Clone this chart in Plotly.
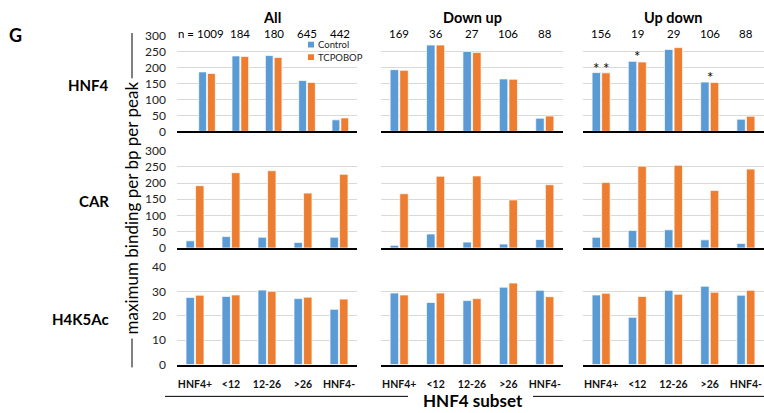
import plotly.graph_objects as go
from plotly.subplots import make_subplots

categories = ["HNF4+", "<12", "12-26", ">26", "HNF4-"]
col_titles = ["All", "Down up", "Up down"]
row_titles = ["HNF4", "CAR", "H4K5Ac"]
n_labels = [["n = 1009", "184", "180", "645", "442"],
            ["169", "36", "27", "106", "88"],
            ["156", "19", "29", "106", "88"]]
series_names = ["Control", "TCPOBOP"]

# HNF4 binding
hnf4_all_control = [186, 236, 237, 159, 36]
hnf4_all_tcpobop = [181, 234, 231, 153, 42]
hnf4_downup_control = [193, 270, 250, 164, 41]
hnf4_downup_tcpobop = [191, 270, 247, 163, 48]
hnf4_updown_control = [184, 219, 256, 154, 38]
hnf4_updown_tcpobop = [183, 217, 262, 153, 47]
# CAR binding
car_all_control = [22, 35, 33, 17, 33]
car_all_tcpobop = [192, 232, 238, 169, 227]
car_downup_control = [8, 43, 18, 12, 26]
car_downup_tcpobop = [167, 221, 222, 148, 195]
car_updown_control = [33, 54, 56, 25, 14]
car_updown_tcpobop = [202, 252, 255, 177, 243]
# H4K5Ac
h4_all_control = [27.6, 28.0, 30.6, 27.1, 22.7]
h4_all_tcpobop = [28.5, 28.6, 30.1, 27.7, 26.9]
h4_downup_control = [29.4, 25.5, 26.3, 31.8, 30.5]
h4_downup_tcpobop = [28.6, 29.4, 27.1, 33.5, 27.9]
h4_updown_control = [28.6, 19.4, 30.5, 32.2, 28.5]
h4_updown_tcpobop = [29.3, 28.0, 28.9, 29.7, 30.5]

control = [[hnf4_all_control, hnf4_downup_control, hnf4_updown_control],
           [car_all_control, car_downup_control, car_updown_control],
           [h4_all_control, h4_downup_control, h4_updown_control]]
tcpobop = [[hnf4_all_tcpobop, hnf4_downup_tcpobop, hnf4_updown_tcpobop],
           [car_all_tcpobop, car_downup_tcpobop, car_updown_tcpobop],
           [h4_all_tcpobop, h4_downup_tcpobop, h4_updown_tcpobop]]
y_max = [300, 300, 40]
y_dtick = [50, 50, 10]

# significance marks (row HNF4, column "Up down")
sig_category = ["HNF4+", "HNF4+", "<12", ">26"]
sig_series = ["control", "tcpobop", "both", "both"]

BLUE = "#5B9BD5"
ORANGE = "#ED7D31"
FONT = "Lato"
W, H = 764, 413

col_px = [(177, 357), (381, 563), (583, 764)]
row_px = [(28.5, 128), (148, 249), (269, 370)]

fig = make_subplots(rows=3, cols=3)

for r in range(3):
    for c in range(3):
        fig.add_trace(go.Bar(x=categories, y=control[r][c], name=series_names[0],
                             marker=dict(color=BLUE, line=dict(color="rgba(255,255,255,0.7)", width=1)),
                             showlegend=False), row=r + 1, col=c + 1)
        fig.add_trace(go.Bar(x=categories, y=tcpobop[r][c], name=series_names[1],
                             marker=dict(color=ORANGE, line=dict(color="rgba(255,255,255,0.7)", width=1)),
                             showlegend=False), row=r + 1, col=c + 1)
        idx = r * 3 + c + 1
        xa = "xaxis" if idx == 1 else f"xaxis{idx}"
        ya = "yaxis" if idx == 1 else f"yaxis{idx}"
        x0, x1 = col_px[c]
        t, b = row_px[r]
        fig.layout[xa].update(domain=[x0 / W, x1 / W], showline=True, linecolor="black",
                              linewidth=1.5, showgrid=False, ticks="",
                              showticklabels=(r == 2),
                              tickfont=dict(family=FONT, size=10.5, color="#111", weight="bold"),
                              ticklabelstandoff=9)
        fig.layout[ya].update(domain=[1 - b / H, 1 - t / H], range=[0, y_max[r]],
                              dtick=y_dtick[r], showgrid=True, gridcolor="#D9D9D9", gridwidth=1,
                              zeroline=False, showline=False, ticks="",
                              showticklabels=(c == 0),
                              tickfont=dict(family=FONT, size=12, color="#222"),
                              ticklabelstandoff=10)

annotations = []
# column titles
for c, title in enumerate(col_titles):
    x0, x1 = col_px[c]
    annotations.append(dict(text=f"<b>{title}</b>", x=(x0 + x1) / 2 / W + (5 / W if c == 0 else 0),
                            y=1, xref="paper", yref="paper", borderpad=0,
                            showarrow=False, font=dict(family=FONT, size=14.5, color="black"),
                            xanchor="center", yanchor="top"))
# n labels
for c in range(3):
    xr = "x" if c == 0 else f"x{c + 1}"
    for i, cat in enumerate(categories):
        annotations.append(dict(text=n_labels[c][i], x=cat, xref=xr, y=1 - 26 / H, yref="paper",
                                showarrow=False, font=dict(family=FONT, size=11.5, color="black"),
                                xanchor="center", yanchor="middle", borderpad=0,
                                xshift=(-6 if (c == 0 and i == 0) else 0)))
# legend (drawn inside the first panel)
legend_y = [38, 51]
legend_col = [BLUE, ORANGE]
shapes = []
for k, name in enumerate(series_names):
    yy = legend_y[k]
    shapes.append(dict(type="rect", xref="paper", yref="paper",
                       x0=308 / W, x1=314 / W, y0=1 - (yy + 3) / H, y1=1 - (yy - 3) / H,
                       fillcolor=legend_col[k], line=dict(width=0)))
    annotations.append(dict(text=name, x=316 / W, y=1 - yy / H, xref="paper", yref="paper",
                            showarrow=False, font=dict(family=FONT, size=9.5, color="#222"),
                            xanchor="left", yanchor="middle"))
# row titles
row_label_y = [80, 200, 323]
for r, title in enumerate(row_titles):
    annotations.append(dict(text=f"<b>{title}</b>", x=111 / W, y=1 - row_label_y[r] / H,
                            xref="paper", yref="paper", showarrow=False,
                            font=dict(family=FONT, size=15, color="black"),
                            xanchor="right", yanchor="middle"))
# panel letter
annotations.append(dict(text="<b>G</b>", x=15 / W, y=1 - 28 / H, xref="paper", yref="paper",
                        showarrow=False, font=dict(family=FONT, size=18, color="black"),
                        xanchor="center", yanchor="middle"))
# y title
annotations.append(dict(text="maximum binding per bp per peak", x=131 / W, y=1 - 208 / H,
                        xref="paper", yref="paper", showarrow=False, textangle=-90,
                        font=dict(family=FONT, size=17, color="black"),
                        xanchor="center", yanchor="middle"))
# x title
annotations.append(dict(text="<b>HNF4 subset</b>", x=473 / W, y=1 - 407 / H,
                        xref="paper", yref="paper", showarrow=False,
                        font=dict(family=FONT, size=17, color="black"),
                        xanchor="center", yanchor="middle"))
# significance asterisks
hnf4_updown = {"control": hnf4_updown_control, "tcpobop": hnf4_updown_tcpobop}
for cat, ser in zip(sig_category, sig_series):
    i = categories.index(cat)
    if ser == "both":
        yv = max(hnf4_updown_control[i], hnf4_updown_tcpobop[i]); xs = 0
    else:
        yv = hnf4_updown[ser][i]; xs = -5 if ser == "control" else 5
    annotations.append(dict(text="*", x=cat, y=yv, xref="x3", yref="y3", showarrow=False,
                            font=dict(family=FONT, size=15, color="black"),
                            xanchor="center", yanchor="bottom", xshift=xs, yshift=-6))

shapes += [
    dict(type="line", xref="paper", yref="paper", x0=132 / W, x1=132 / W, y0=1 - 26 / H, y1=1 - 73 / H,
         line=dict(color="black", width=1)),
    dict(type="line", xref="paper", yref="paper", x0=132 / W, x1=132 / W, y0=1 - 343 / H, y1=1 - 373 / H,
         line=dict(color="black", width=1)),
    dict(type="line", xref="paper", yref="paper", x0=165 / W, x1=408 / W, y0=1 - 403 / H, y1=1 - 403 / H,
         line=dict(color="black", width=1)),
    dict(type="line", xref="paper", yref="paper", x0=533 / W, x1=764 / W, y0=1 - 403 / H, y1=1 - 403 / H,
         line=dict(color="black", width=1)),
]

fig.update_layout(
    width=W, height=H, autosize=False,
    margin=dict(l=0, r=0, t=0, b=0),
    paper_bgcolor="white", plot_bgcolor="white",
    barmode="group", bargap=0.47, bargroupgap=0.12,
    font=dict(family=FONT, color="black"),
    showlegend=False,
    annotations=annotations, shapes=shapes,
)

fig.write_html("out.html", config={"displayModeBar": False},
               post_script="document.body.style.margin='0';document.body.style.overflow='hidden';")
